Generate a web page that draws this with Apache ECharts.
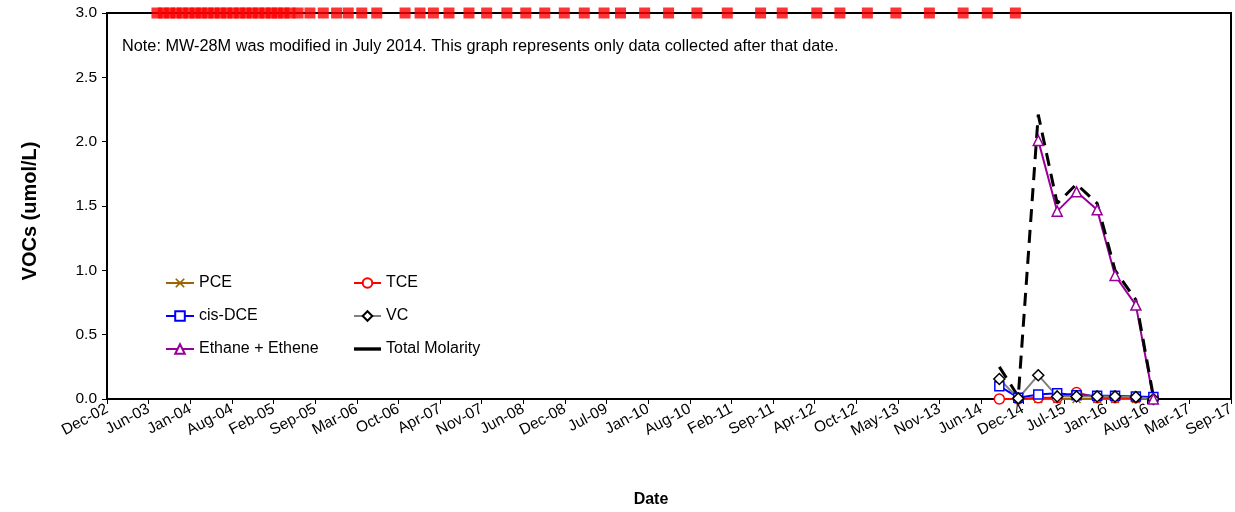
<!DOCTYPE html>
<html>
<head>
<meta charset="utf-8">
<script src="https://cdn.jsdelivr.net/npm/echarts@6/dist/echarts.min.js"></script>
<style>
html,body{margin:0;padding:0;background:#fff;}
#chart{width:1235px;height:512px;}
</style>
</head>
<body>
<div id="chart"></div>
<script>
// ---- data ----
var sampleDates = ['2014-09-05','2014-12-05','2015-03-11','2015-06-10','2015-09-11','2015-12-19','2016-03-14','2016-06-22','2016-09-14'];
var pce    = [0, 0, 0, 0, 0, 0, 0, 0, 0];
var tce    = [0, 0, 0.01, 0.01, 0.05, 0.01, 0.01, 0.01, 0.01];
var cisDce = [0.10, 0.01, 0.035, 0.045, 0.03, 0.025, 0.025, 0.02, 0.015];
var vc     = [0.155, 0.005, 0.185, 0.02, 0.02, 0.02, 0.02, 0.015, 0];
var ethane = [null, null, 2.01, 1.46, 1.61, 1.47, 0.96, 0.73, 0.0];
var total  = [0.25, 0.02, 2.21, 1.52, 1.67, 1.52, 1.00, 0.77, 0.02];

// earlier sampling events (pre-modification), plotted on the top of the chart
var earlierDates = [
 '2003-08-07','2003-09-07','2003-10-07','2003-11-07','2003-12-07',
 '2004-01-07','2004-02-07','2004-03-07','2004-04-07','2004-05-07','2004-06-07',
 '2004-07-07','2004-08-07','2004-09-07','2004-10-07','2004-11-07','2004-12-07',
 '2005-01-07','2005-02-07','2005-03-07','2005-04-07','2005-05-07','2005-06-15',
 '2005-08-11','2005-10-14','2005-12-17','2006-02-11','2006-04-17','2006-06-28',
 '2006-11-11','2007-01-22','2007-03-27','2007-06-10','2007-09-14','2007-12-08',
 '2008-03-14','2008-06-13','2008-09-12','2008-12-15','2009-03-21','2009-06-24',
 '2009-09-11','2010-01-05','2010-04-30','2010-09-13','2011-02-06','2011-07-16',
 '2011-10-28','2012-04-11','2012-07-31','2012-12-10','2013-04-26','2013-10-04',
 '2014-03-15','2014-07-09','2014-11-21'];
var earlierValue = 3.0;

var yTicks = {min: 0, max: 3, interval: 0.5};
var xAxisRange = {min: 37600, max: 43000, interval: 200}; // Excel-style day serials
var monthNames = ['Jan','Feb','Mar','Apr','May','Jun','Jul','Aug','Sep','Oct','Nov','Dec'];
var noteText = 'Note: MW-28M was modified in July 2014. This graph represents only data collected after that date.';
var xTitle = 'Date';
var yTitle = 'VOCs (umol/L)';

// ---- helpers ----
function toSerial(s) {
  var p = s.split('-');
  return Date.UTC(+p[0], +p[1] - 1, +p[2]) / 86400000 + 25569;
}
function serialLabel(v) {
  var d = new Date((v - 25569) * 86400000);
  var yy = String(d.getUTCFullYear() % 100);
  if (yy.length < 2) yy = '0' + yy;
  return monthNames[d.getUTCMonth()] + '-' + yy;
}
function pairs(dates, vals) {
  return dates.map(function (d, i) { return [toSerial(d), vals[i]]; });
}

var FONT = 'Liberation Sans, Arial, sans-serif';
var xShape = 'path://M0,1.2 L1.2,0 L5,3.8 L8.8,0 L10,1.2 L6.2,5 L10,8.8 L8.8,10 L5,6.2 L1.2,10 L0,8.8 L3.8,5 Z';
var barIcon = 'path://M0,0 L24,0 L24,3 L0,3 Z';

var legendText = {fontFamily: FONT, fontSize: 16, color: '#000'};

var chart = echarts.init(document.getElementById('chart'), null, {renderer: 'canvas'});
chart.setOption({
  animation: false,
  backgroundColor: '#fff',
  title: {
    text: noteText, left: 117, top: 34,
    textStyle: {fontFamily: FONT, fontSize: 16.3, fontWeight: 'normal', color: '#000'}
  },
  graphic: [
    {type: 'text', x: 651, y: 500,
     style: {text: xTitle, fontFamily: FONT, fontSize: 16, fontWeight: 'bold', fill: '#000',
             align: 'center', verticalAlign: 'middle'}},
    {type: 'text', x: 30, y: 211, rotation: Math.PI / 2,
     style: {text: yTitle, fontFamily: FONT, fontSize: 20, fontWeight: 'bold', fill: '#000',
             align: 'center', verticalAlign: 'middle'}}
  ],
  grid: {left: 107, right: 4, top: 13, bottom: 113, show: true, borderColor: '#000', borderWidth: 2,
         containLabel: false, outerBoundsMode: 'none'},
  xAxis: {
    type: 'value', min: xAxisRange.min, max: xAxisRange.max, interval: xAxisRange.interval,
    axisLine: {show: true, onZero: false, lineStyle: {color: '#000', width: 2}},
    axisTick: {show: true, inside: false, length: 5, lineStyle: {color: '#000', width: 1}},
    splitLine: {show: false},
    axisLabel: {rotate: 28, margin: 9, fontFamily: FONT, fontSize: 15.5, color: '#000',
      formatter: serialLabel, showMinLabel: true, showMaxLabel: true, hideOverlap: false}
  },
  yAxis: {
    type: 'value', min: yTicks.min, max: yTicks.max, interval: yTicks.interval,
    axisLine: {show: true, lineStyle: {color: '#000', width: 2}},
    axisTick: {show: true, inside: false, length: 5, lineStyle: {color: '#000', width: 1}},
    splitLine: {show: false},
    axisLabel: {margin: 10, fontFamily: FONT, fontSize: 15.5, color: '#000',
      formatter: function (v) { return v.toFixed(1); }}
  },
  legend: [
    {left: 165, top: 275, padding: 0, orient: 'vertical', itemWidth: 28, itemHeight: 12, itemGap: 17,
     data: ['PCE', 'cis-DCE', 'Ethane + Ethene'], textStyle: legendText},
    {left: 353, top: 275, padding: 0, orient: 'vertical', itemWidth: 27, itemHeight: 12, itemGap: 17,
     data: ['TCE', 'VC', {name: 'Total Molarity', icon: barIcon}], textStyle: legendText}
  ],
  series: [
    {name: 'Earlier samples', type: 'scatter', data: earlierDates.map(function (d) { return [toSerial(d), earlierValue]; }),
     symbol: 'rect', symbolSize: 11, itemStyle: {color: '#ff0000'}, clip: false, z: 5},
    {name: 'PCE', type: 'line', data: pairs(sampleDates, pce), clip: false,
     symbol: xShape, symbolSize: 9, lineStyle: {color: '#996600', width: 2},
     itemStyle: {color: '#996600'}},
    {name: 'TCE', type: 'line', data: pairs(sampleDates, tce), clip: false,
     symbol: 'circle', symbolSize: 10, lineStyle: {color: '#ff0000', width: 2},
     itemStyle: {color: '#fff', borderColor: '#ff0000', borderWidth: 1.5}},
    {name: 'cis-DCE', type: 'line', data: pairs(sampleDates, cisDce), clip: false,
     symbol: 'rect', symbolSize: 9, lineStyle: {color: '#0000ff', width: 2},
     itemStyle: {color: '#fff', borderColor: '#0000ff', borderWidth: 1.5}},
    {name: 'VC', type: 'line', data: pairs(sampleDates, vc), clip: false,
     symbol: 'diamond', symbolSize: 11, lineStyle: {color: '#808080', width: 2},
     itemStyle: {color: '#fff', borderColor: '#000', borderWidth: 1.5}},
    {name: 'Ethane + Ethene', type: 'line', data: pairs(sampleDates, ethane), clip: false, connectNulls: false,
     symbol: 'triangle', symbolSize: 10, lineStyle: {color: '#990099', width: 2},
     itemStyle: {color: '#fff', borderColor: '#990099', borderWidth: 1.5}},
    {name: 'Total Molarity', type: 'line', data: pairs(sampleDates, total), clip: false,
     symbol: 'none', showSymbol: false, lineStyle: {color: '#000', width: 3, type: [13, 8]},
     itemStyle: {color: '#000'}}
  ]
});
</script>
</body>
</html>
